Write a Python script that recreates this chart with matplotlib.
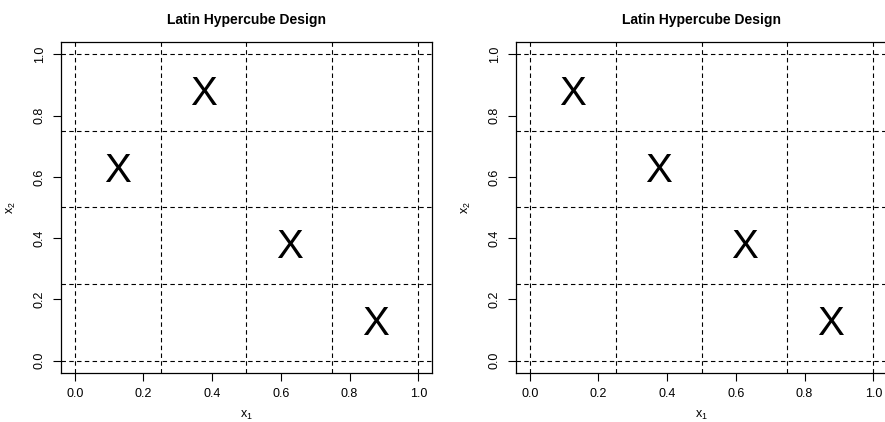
import matplotlib
matplotlib.use("Agg")
import matplotlib.pyplot as plt

plt.rcParams["font.family"] = ["Liberation Sans", "DejaVu Sans"]
plt.rcParams["mathtext.fontset"] = "custom"
plt.rcParams["mathtext.rm"] = "Liberation Sans"
plt.rcParams["mathtext.it"] = "Liberation Sans"

# Grid cell boundaries for the 4x4 design
grid_lines = [0.0, 0.25, 0.5, 0.75, 1.0]
tick_values = [0.0, 0.2, 0.4, 0.6, 0.8, 1.0]
tick_labels = ["0.0", "0.2", "0.4", "0.6", "0.8", "1.0"]

# Design points (cell centres) for the two panels
left_x1 = [0.375, 0.125, 0.625, 0.875]
left_x2 = [0.875, 0.625, 0.375, 0.125]
right_x1 = [0.125, 0.375, 0.625, 0.875]
right_x2 = [0.875, 0.625, 0.375, 0.125]

title = "Latin Hypercube Design"

fig = plt.figure(figsize=(8.85, 4.22), dpi=100)
W, H = 885, 422


def panel(left_px, xs, ys):
    ax = fig.add_axes([left_px / W, 1 - 373 / H, 371 / W, 331 / H])
    ax.set_xlim(-0.04, 1.04)
    ax.set_ylim(-0.04, 1.04)
    for g in grid_lines:
        ax.axvline(g, color="black", lw=0.8, ls=(0, (4, 3)))
        ax.axhline(g, color="black", lw=0.8, ls=(0, (4, 3)))
    for x, y in zip(xs, ys):
        ax.text(x, y - 0.005, "X", ha="center", va="center", fontsize=29, color="black")
    ax.set_xticks(tick_values)
    ax.set_xticklabels(tick_labels, fontsize=9)
    ax.set_yticks(tick_values)
    ax.set_yticklabels(tick_labels, fontsize=9, rotation=90, va="center")
    ax.tick_params(direction="out", length=6, width=0.8, pad=5)
    for s in ax.spines.values():
        s.set_linewidth(0.9)
    ax.set_title(title, fontsize=10, fontweight="bold", pad=13)
    ax.set_xlabel(r"$\mathrm{x}_1$", fontsize=9, labelpad=6)
    ax.set_ylabel(r"$\mathrm{x}_2$", fontsize=9, labelpad=11)
    return ax


panel(61, left_x1, left_x2)
panel(516, right_x1, right_x2)

fig.savefig("out.png", dpi=100)
